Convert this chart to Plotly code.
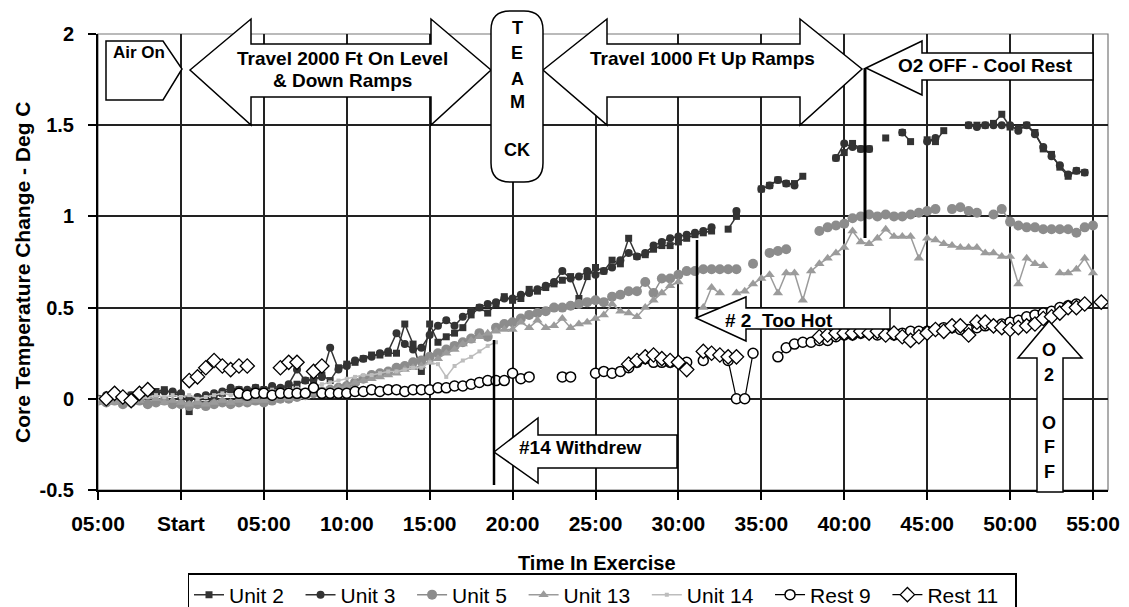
import plotly.graph_objects as go

# ---------------- data ----------------
# sampling clock: every 30 s from -5:00 (before start) to 56:00
minutes = [-5 + 0.5 * i for i in range(123)]

tick_vals = [-5, 0, 5, 10, 15, 20, 25, 30, 35, 40, 45, 50, 55]
tick_text = ["05:00", "Start", "05:00", "10:00", "15:00", "20:00", "25:00",
             "30:00", "35:00", "40:00", "45:00", "50:00", "55:00"]

N = None
unit2 = [0.0, 0.01, 0.0, 0.01, 0.02, 0.02, 0.03, 0.04, 0.05, 0.03,
         0.02, -0.07, 0.0, -0.03, 0.01, 0.03, 0.05, 0.05, 0.04, 0.06,
         0.05, 0.06, 0.05, 0.07, 0.08, 0.1, 0.1, 0.13, 0.1, 0.17,
         0.19, 0.2, 0.22, 0.24, 0.24, 0.25, 0.25, 0.41, 0.3, 0.15,
         0.41, 0.31, 0.34, 0.36, 0.39, 0.46, 0.5, 0.47, 0.52, 0.56,
         0.54, 0.55, 0.6, 0.59, 0.61, 0.63, 0.65, 0.67, 0.55, 0.67,
         0.72, 0.7, 0.76, 0.74, 0.88, 0.78, 0.79, 0.82, 0.84, 0.84,
         0.86, 0.88, 0.9, 0.91, 0.92, N, 0.93, 1.0, N, N,
         1.15, 1.17, 1.2, 1.18, 1.18, 1.22, N, N, N, 1.32,
         1.35, 1.4, 1.37, 1.37, N, 1.43, N, 1.46, 1.41, N,
         1.42, 1.41, 1.47, N, N, 1.5, 1.5, 1.5, 1.51, 1.56,
         1.49, 1.48, 1.5, 1.46, 1.37, 1.34, 1.27, 1.22, 1.25, 1.24,
         N, N, N]
unit3 = [0.0, 0.02, 0.01, 0.0, 0.02, 0.03, 0.02, 0.03, 0.04, 0.04,
         0.03, 0.0, 0.01, 0.02, 0.03, 0.04, 0.06, 0.05, 0.05, 0.06,
         0.05, 0.07, 0.06, 0.08, 0.16, 0.1, 0.11, 0.12, 0.28, 0.16,
         0.18, 0.21, 0.22, 0.23, 0.25, 0.26, 0.36, 0.3, 0.27, 0.28,
         0.35, 0.4, 0.43, 0.4, 0.45, 0.48, 0.5, 0.52, 0.53, 0.55,
         0.55, 0.57, 0.58, 0.6, 0.62, 0.64, 0.7, 0.66, 0.67, 0.7,
         0.68, 0.7, 0.72, 0.76, 0.8, 0.78, 0.8, 0.84, 0.86, 0.88,
         0.89, 0.9, 0.91, 0.92, 0.94, N, N, 1.03, N, N,
         1.15, 1.17, 1.2, 1.18, 1.17, N, N, N, N, 1.32,
         1.4, 1.38, 1.37, 1.37, N, N, N, 1.46, N, N,
         1.41, 1.43, N, N, N, 1.5, 1.49, 1.5, 1.5, 1.5,
         1.5, 1.47, 1.5, 1.45, 1.38, 1.33, 1.28, 1.23, 1.25, 1.24,
         N, N, N]
unit5 = [-0.01, -0.02, -0.01, -0.03, -0.02, -0.01, -0.03, -0.02, -0.01, -0.03,
         -0.03, -0.04, -0.03, -0.04, -0.03, -0.02, -0.03, -0.02, -0.02, -0.01,
         -0.02, -0.01, 0.0, 0.0, 0.01, 0.02, 0.03, 0.04, 0.05, 0.06,
         0.07, 0.09, 0.11, 0.13, 0.14, 0.15, 0.17, 0.18, 0.2, 0.21,
         0.23, 0.25, 0.27, 0.29, 0.31, 0.33, 0.36, 0.34, 0.39, 0.41,
         0.42, 0.44, 0.46, 0.47, 0.48, 0.5, 0.5, 0.51, 0.52, 0.53,
         0.54, 0.53, 0.56, 0.57, 0.59, 0.59, 0.64, 0.58, 0.66, 0.66,
         0.68, 0.7, 0.7, 0.71, 0.71, 0.71, 0.71, 0.71, N, 0.74,
         N, 0.8, 0.81, 0.82, N, N, N, 0.92, 0.94, 0.95,
         0.96, 0.99, 1.0, 1.01, 1.0, 1.01, 1.0, 1.0, 1.01, 1.02,
         1.03, 1.04, N, 1.04, 1.05, 1.03, 1.02, N, 1.01, 1.04,
         0.97, 0.95, 0.94, 0.94, 0.93, 0.93, 0.93, 0.93, 0.91, 0.94,
         0.95, N, N]
unit13 = [-0.02, -0.01, -0.02, -0.01, 0.0, -0.01, 0.01, 0.0, -0.02, -0.01,
          -0.02, -0.03, -0.02, -0.03, -0.02, -0.01, -0.02, -0.01, -0.02, -0.01,
          -0.01, 0.0, 0.01, 0.0, 0.02, 0.01, 0.03, 0.04, 0.05, 0.06,
          0.07, 0.09, 0.1, 0.11, 0.12, 0.13, 0.14, 0.16, 0.17, 0.18,
          0.2, 0.22, 0.25, 0.27, 0.3, 0.32, 0.34, 0.36, 0.37, 0.38,
          0.38, 0.42, 0.39, 0.43, 0.39, 0.4, 0.44, 0.39, 0.41, 0.42,
          0.44, 0.46, 0.52, 0.48, 0.47, 0.45, 0.5, 0.54, 0.58, 0.62,
          0.64, N, N, 0.5, 0.61, 0.58, N, 0.58, 0.59, 0.63,
          0.66, 0.68, 0.58, 0.69, 0.69, 0.54, 0.7, 0.74, 0.77, 0.8,
          0.83, 0.92, 0.86, 0.85, 0.88, 0.93, 0.89, 0.89, 0.89, 0.77,
          0.88, 0.87, 0.85, 0.84, 0.83, 0.83, 0.83, 0.8, 0.8, 0.78,
          0.78, 0.63, 0.77, 0.74, 0.73, N, 0.69, 0.69, 0.71, 0.77,
          0.69, N, N]
unit14 = [0.0, -0.01, 0.0, 0.01, -0.01, 0.0, 0.01, 0.02, 0.01, 0.02,
          0.01, 0.02, 0.0, 0.01, 0.02, 0.03, 0.02, 0.03, 0.02, 0.03,
          0.04, 0.05, 0.04, 0.05, 0.06, 0.05, 0.07, 0.08, 0.09, 0.1,
          0.11, 0.12, 0.13, 0.13, 0.14, 0.15, 0.15, 0.16, 0.17, 0.17,
          0.2, 0.19, 0.12, 0.18, 0.21, 0.23, 0.26, 0.29, 0.31, N] + [N] * 73
rest9 = [N, N, N, N, N, N, N, N, N, N,
         N, N, N, N, N, N, N, 0.03, 0.02, 0.03,
         0.03, 0.02, 0.03, 0.03, 0.03, 0.03, 0.06, 0.03, 0.03, 0.03,
         0.03, 0.04, 0.04, 0.05, 0.04, 0.05, 0.05, 0.04, 0.05, 0.05,
         0.05, 0.06, 0.06, 0.07, 0.07, 0.08, 0.09, 0.1, 0.1, 0.1,
         0.14, 0.11, 0.12, N, N, N, 0.12, 0.12, N, N,
         0.14, 0.15, 0.14, 0.15, 0.17, 0.2, 0.22, 0.2, 0.2, 0.2,
         0.2, 0.2, N, 0.21, N, N, 0.21, 0.0, 0.0, 0.25,
         N, N, 0.23, 0.28, 0.3, 0.31, 0.31, 0.32, 0.32, 0.34,
         0.35, 0.35, 0.36, 0.36, 0.35, 0.36, 0.35, 0.36, 0.37, 0.37,
         0.37, 0.38, 0.39, 0.39, 0.38, 0.38, 0.39, 0.4, 0.4, 0.41,
         0.42, 0.43, 0.45, 0.46, 0.47, 0.48, 0.5, 0.51, 0.52, N,
         N, N, N]
rest11 = [N, 0.0, 0.03, 0.01, -0.01, 0.03, 0.05, N, N, N,
          N, 0.1, 0.12, 0.17, 0.21, 0.18, 0.16, 0.18, 0.18, N,
          N, N, 0.17, 0.2, 0.2, N, 0.15, 0.18, N, N,
          N, N, N, N, N, N, N, N, N, N,
          N, N, N, N, N, N, N, N, N, N,
          N, N, N, N, N, N, N, N, N, N,
          N, N, N, N, 0.19, 0.21, 0.23, 0.24, 0.22, 0.21,
          0.2, 0.16, N, 0.26, 0.25, 0.24, 0.23, 0.23, N, N,
          N, N, N, N, N, N, N, 0.34, 0.35, 0.36,
          0.36, 0.36, 0.37, 0.36, 0.37, 0.35, 0.36, 0.34, 0.32, 0.34,
          0.36, 0.38, 0.37, 0.4, 0.4, 0.35, 0.42, 0.42, 0.4, 0.39,
          0.38, 0.39, 0.4, 0.41, 0.44, 0.45, 0.47, 0.5, 0.5, 0.52,
          N, 0.53, N]

series = [
    ("Unit 2", unit2, "#333333", "square", 7, 1.5, "#333333", 0),
    ("Unit 3", unit3, "#333333", "circle", 8, 1.5, "#333333", 0),
    ("Unit 5", unit5, "#8c8c8c", "circle", 10, 1.5, "#8c8c8c", 0),
    ("Unit 13", unit13, "#9b9b9b", "triangle-up", 9, 1.5, "#9b9b9b", 0),
    ("Unit 14", unit14, "#bdbdbd", "square", 4, 1.5, "#bdbdbd", 0),
    ("Rest 9", rest9, "#000000", "circle", 10, 1.2, "#ffffff", 1.5),
    ("Rest 11", rest11, "#000000", "diamond", 11, 1.2, "#ffffff", 1.3),
]

# ---------------- figure ----------------
L, R, T, B = 98, 1108, 34, 490
W, H = 1129, 607


def px(x):
    return (x - L) / (R - L)


def py(y):
    return (B - y) / (B - T)


fig = go.Figure()
for name, vals, col, sym, size, lw, fill, mlw in series:
    fig.add_trace(go.Scatter(
        x=minutes, y=vals, name=name + "\u00a0\u00a0", mode="lines+markers",
        line=dict(color=col, width=lw),
        marker=dict(symbol=sym, size=size, color=fill,
                    line=dict(color=col, width=mlw)),
        connectgaps=False,
    ))

FONT = "Arial, Liberation Sans, sans-serif"


def poly(points, width=1.5):
    d = "M " + " L ".join(f"{px(x):.5f},{py(y):.5f}" for x, y in points) + " Z"
    return dict(type="path", xref="paper", yref="paper", path=d,
                fillcolor="white", line=dict(color="black", width=width),
                layer="above")


def vline(x, y0, y1, width=2.5):
    return dict(type="line", xref="paper", yref="paper",
                x0=px(x), x1=px(x), y0=py(y0), y1=py(y1),
                line=dict(color="black", width=width), layer="above")


shapes = []
shapes.append(dict(type="rect", xref="paper", yref="paper", x0=0, x1=1, y0=0, y1=1,
                   line=dict(color="#777777", width=1.2), layer="below"))
shapes.append(poly([(106, 41), (163, 41), (182, 69), (163, 100), (106, 100)]))
shapes.append(poly([(190, 70), (251, 19), (251, 44), (431, 44), (431, 19), (491, 70),
                    (431, 125), (431, 97), (251, 97), (251, 125)]))
shapes.append(poly([(543, 70), (607, 19), (607, 44), (800, 44), (800, 19), (862, 69),
                    (800, 125), (800, 97), (607, 97), (607, 125)]))
tp = (f"M {px(491):.5f},{py(30):.5f} Q {px(491):.5f},{py(11):.5f} {px(510):.5f},{py(11):.5f} "
      f"L {px(524):.5f},{py(11):.5f} Q {px(543):.5f},{py(11):.5f} {px(543):.5f},{py(30):.5f} "
      f"L {px(543):.5f},{py(163):.5f} Q {px(543):.5f},{py(182):.5f} {px(524):.5f},{py(182):.5f} "
      f"L {px(510):.5f},{py(182):.5f} Q {px(491):.5f},{py(182):.5f} {px(491):.5f},{py(163):.5f} Z")
shapes.append(dict(type="path", xref="paper", yref="paper", path=tp, fillcolor="white",
                   line=dict(color="black", width=1.5), layer="above"))
shapes.append(poly([(866, 68), (922, 41), (922, 53), (1093, 53), (1093, 80), (922, 80), (922, 95)]))
shapes.append(vline(865, 68, 238, 3))
shapes.append(poly([(696, 318), (746, 297), (746, 308), (890, 308), (890, 329), (746, 329), (746, 341)]))
shapes.append(vline(697, 240, 318, 2.5))
shapes.append(poly([(494, 452), (538, 418), (538, 435), (677, 435), (677, 468), (538, 468), (538, 483)]))
shapes.append(vline(494, 340, 485, 2.5))
shapes.append(poly([(1049, 321), (1082, 358), (1063, 358), (1063, 492), (1037, 492), (1037, 358), (1018, 358)]))


def label(text, x, y, size=18, **kw):
    return dict(text=text, xref="paper", yref="paper", x=px(x), y=py(y),
                xanchor="center", yanchor="middle", showarrow=False,
                font=dict(family=FONT, size=size, color="black"), **kw)


annotations = [
    label("<b>Air On</b>", 139, 52, 17),
    label("<b>Travel 2000 Ft On Level</b>", 342, 58, 19),
    label("<b>& Down Ramps</b>", 342, 80, 19),
    label("<b>Travel 1000 Ft Up Ramps</b>", 702, 58, 19),
    label("<b>O2 OFF - Cool Rest</b>", 985, 65, 19),
    label("<b># 2  Too Hot</b>", 779, 320, 19),
    label("<b>#14 Withdrew</b>", 580, 447, 19),
    label("<b>Time In Exercise</b>", 597, 563, 20),
    label("<b>Core Temperature Change - Deg C</b>", 22, 272, 21, textangle=-90),
]
for ch, yy in [("T", 28), ("E", 53), ("A", 79), ("M", 102), ("CK", 150)]:
    annotations.append(label(f"<b>{ch}</b>", 517, yy, 18))
for ch, yy in [("O", 350), ("2", 375), ("O", 423), ("F", 447), ("F", 472)]:
    annotations.append(label(f"<b>{ch}</b>", 1049, yy, 18))

fig.update_layout(
    template="none",
    width=W, height=H,
    margin=dict(l=L, r=W - R, t=T, b=H - B, pad=0, autoexpand=False),
    paper_bgcolor="white", plot_bgcolor="white",
    font=dict(family=FONT, color="black"),
    showlegend=True,
    legend=dict(orientation="h", x=px(602), xanchor="center", y=py(573), yanchor="top",
                font=dict(family=FONT, size=21, color="black"),
                bordercolor="black", borderwidth=1.5, bgcolor="white",
                itemwidth=30, tracegroupgap=0, entrywidth=0),
    shapes=shapes,
    annotations=annotations,
)
fig.update_xaxes(
    range=[-5, 55.905], tickmode="array", tickvals=tick_vals, ticktext=tick_text,
    showgrid=True, gridcolor="#222222", gridwidth=1.5,
    showline=True, linecolor="black", linewidth=2,
    ticks="outside", ticklen=8, tickwidth=1.5, tickcolor="black",
    tickfont=dict(family=FONT, size=21, color="black", weight="bold"),
    zeroline=False, ticklabelstandoff=6, automargin=False,
)
fig.update_yaxes(
    range=[-0.5, 2], tickmode="array", tickvals=[-0.5, 0, 0.5, 1, 1.5, 2],
    ticktext=["-0.5", "0", "0.5", "1", "1.5", "2"],
    showgrid=True, gridcolor="#222222", gridwidth=1.5,
    showline=True, linecolor="black", linewidth=2,
    ticks="outside", ticklen=8, tickwidth=1.5, tickcolor="black",
    tickfont=dict(family=FONT, size=20, color="black", weight="bold"),
    zeroline=False, ticklabelstandoff=10, automargin=False,
)

fig.write_html("out.html", config={"displayModeBar": False},
               post_script="document.body.style.margin='0';document.body.style.padding='0';")
